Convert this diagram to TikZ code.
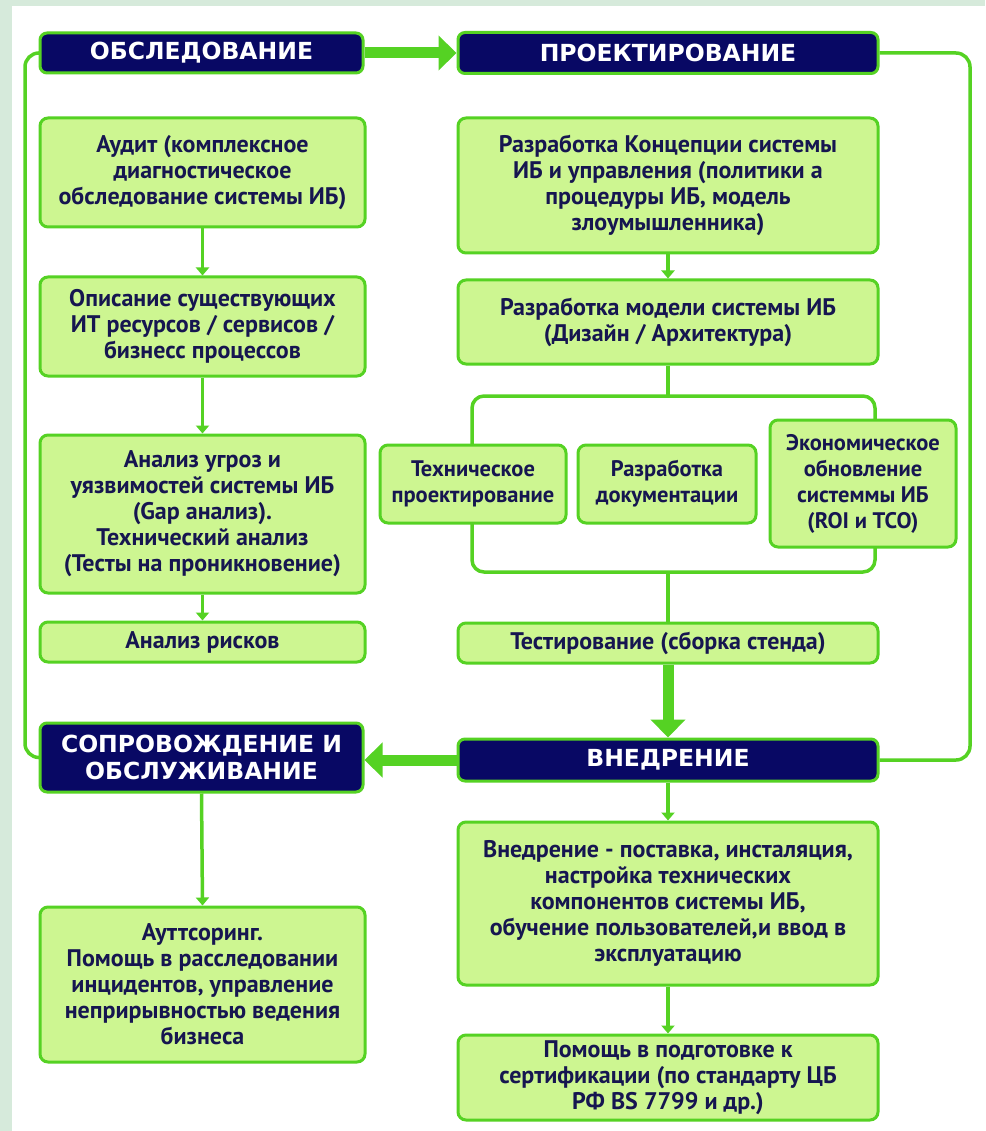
\documentclass[tikz,border=0pt]{standalone}
\usepackage{fontspec}
\setmainfont{PT Sans}
\newfontfamily\hdrfont{DejaVu Sans}
\usetikzlibrary{arrows.meta}
\definecolor{navybox}{RGB}{8,8,100}
\definecolor{gline}{RGB}{85,210,35}
\definecolor{gfill}{RGB}{205,246,145}
\definecolor{txtc}{RGB}{22,22,80}
\definecolor{bgout}{RGB}{214,234,219}
\begin{document}
\begin{tikzpicture}[x=1pt,y=-1pt,
  box/.style={draw=gline, line width=3pt, fill=gfill, rounded corners=8pt, inner sep=0pt, align=center, text=txtc, font=\fontsize{24}{26}\selectfont\bfseries},
  smallbox/.style={box, font=\fontsize{22.5}{26}\selectfont\bfseries},
  hdr/.style={draw=gline, line width=3pt, fill=navybox, rounded corners=7pt, inner sep=0pt, align=center, text=white, font=\hdrfont\bfseries\fontsize{23.5}{27}\selectfont},
  conn/.style={draw=gline, line width=3.5pt},
  thinarrow/.style={conn, -{Triangle[width=13pt,length=8pt]}},
  thickarrow/.style={draw=gline, line width=11pt, -{Triangle[width=34pt,length=18pt]}},
  loopline/.style={conn, rounded corners=14pt}
]
\fill[bgout] (0,0) rectangle (985,1131);
\fill[white] (12,6) rectangle (985,1131);
\useasboundingbox (0,0) rectangle (985,1131);

% bracket behind the three small boxes
\coordinate (brTL) at (472,396);
\coordinate (brBR) at (875,572);
\draw[conn, rounded corners=12pt] (brTL) rectangle (brBR);

% left column
\node[hdr, minimum width=323pt, minimum height=40pt] (h1) at (201.5,53) {ОБСЛЕДОВАНИЕ};
\node[box, minimum width=325pt, minimum height=109pt] (audit) at (202.5,172.5) {Аудит (комплексное\\диагностическое\\обследование системы ИБ)};
\node[box, minimum width=325pt, minimum height=99pt] (opis) at (202.5,326.5) {Описание существующих\\ИТ ресурсов / сервисов /\\бизнесс процессов};
\node[box, minimum width=325pt, minimum height=158pt] (anal) at (202.5,514) {Анализ угроз и\\уязвимостей системы ИБ\\(Gap анализ).\\Технический анализ\\(Тесты на проникновение)};
\node[box, minimum width=325pt, minimum height=40pt] (risk) at (202.5,642) {Анализ рисков};
\node[hdr, minimum width=323pt, minimum height=69pt] (h4) at (201.5,757.5) {СОПРОВОЖДЕНИЕ И\\ОБСЛУЖИВАНИЕ};
\node[box, minimum width=325pt, minimum height=155pt] (outs) at (202.5,984.5) {Ауттсоринг.\\Помощь в расследовании\\инцидентов, управление\\неприрывностью ведения\\бизнеса};

% right column
\node[hdr, minimum width=420pt, minimum height=41pt] (h2) at (668,53) {ПРОЕКТИРОВАНИЕ};
\node[box, minimum width=420pt, minimum height=135pt] (konc) at (668,185.5) {Разработка Концепции системы\\ИБ и управления (политики а\\процедуры ИБ, модель\\злоумышленника)};
\node[box, minimum width=420pt, minimum height=84pt] (model) at (668,322) {Разработка модели системы ИБ\\(Дизайн / Архитектура)};
\node[smallbox, minimum width=186pt, minimum height=78pt] (tex) at (473,484) {Техническое\\проектирование};
\node[smallbox, minimum width=178pt, minimum height=78pt] (doc) at (667,484) {Разработка\\документации};
\node[smallbox, minimum width=186pt, minimum height=127pt] (econ) at (863,483.5) {Экономическое\\обновление\\системмы ИБ\\(ROI и TCO)};
\node[box, minimum width=420pt, minimum height=40pt] (test) at (668,643) {Тестирование (сборка стенда)};
\node[hdr, minimum width=420pt, minimum height=42pt] (h3) at (668,760) {ВНЕДРЕНИЕ};
\node[box, minimum width=420pt, minimum height=163pt] (vnedr) at (668,903.5) {Внедрение - поставка, инсталяция,\\настройка технических\\компонентов системы ИБ,\\обучение пользователей,и ввод в\\эксплуатацию};
\node[box, minimum width=420pt, minimum height=85pt] (help) at (668,1077.5) {Помощь в подготовке к\\сертификации (по стандарту ЦБ\\РФ BS 7799 и др.)};

% loops
\coordinate (ll) at (25,0);
\coordinate (rl) at (970,0);
\draw[loopline] (h1.west) -- (h1.west -| ll) -- (h4.west -| ll) -- (h4.west);
\draw[loopline] (h2.east) -- (h2.east -| rl) -- (h3.east -| rl) -- (h3.east);

% thin arrows
\draw[thinarrow] (audit.south) -- (opis.north);
\draw[thinarrow] (opis.south) -- (anal.north);
\draw[thinarrow] (anal.south) -- (risk.north);
\draw[thinarrow] (h4.south) -- (outs.north);
\draw[thinarrow] (konc.south) -- (model.north);
\draw[thinarrow] (h3.south) -- (vnedr.north);
\draw[thinarrow] (vnedr.south) -- (help.north);
\draw[conn] (model.south) -- (model.south |- brTL);
\draw[conn] (test.north) -- (test.north |- brBR);

% thick arrows
\draw[thickarrow] (h1.east) -- (h2.west);
\draw[thickarrow] (test.south) -- (h3.north);
\draw[thickarrow] (h3.west) -- (h3.west -| h4.east);
\end{tikzpicture}
\end{document}
